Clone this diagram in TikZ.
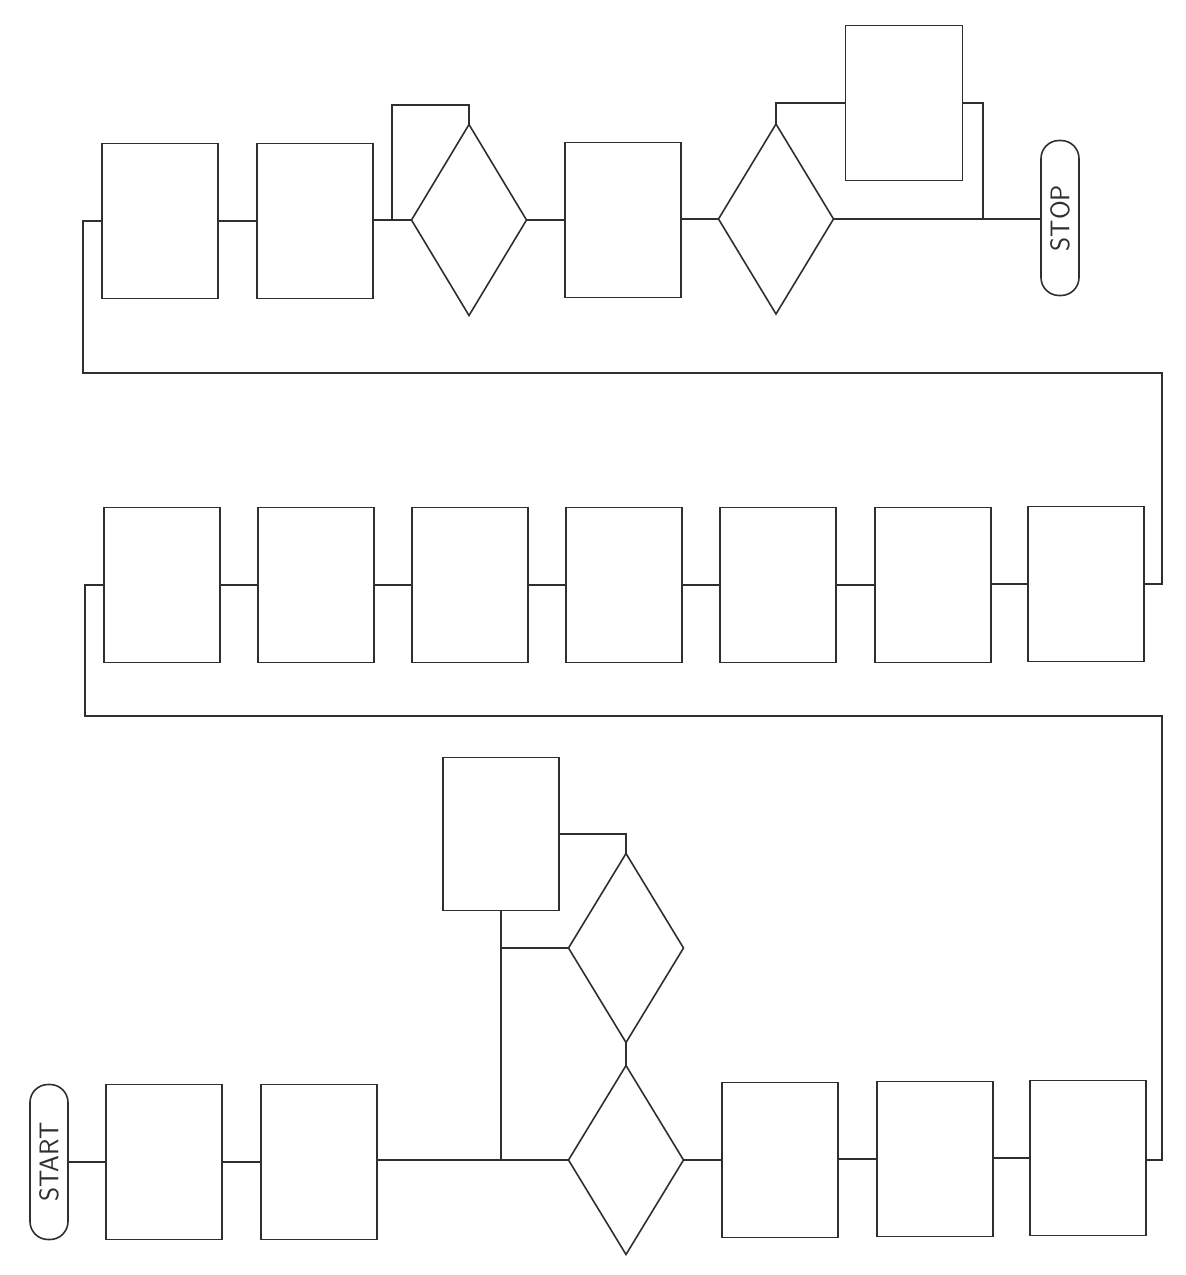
\documentclass[tikz,border=0pt]{standalone}
\usetikzlibrary{shapes.geometric}
\definecolor{ink}{RGB}{45,48,50}
\begin{document}
\begin{tikzpicture}[x=1pt,y=-1pt,
  every node/.style={outer sep=0pt, inner sep=0pt},
  conn/.style={draw=ink, line width=1.6pt},
  proc/.style={draw=ink, line width=1.6pt, rectangle, minimum width=116pt, minimum height=155pt},
  dec/.style={draw=ink, line width=1.6pt, diamond, minimum width=115pt, minimum height=189pt},
  term/.style={draw=ink, line width=1.6pt, rectangle, rounded corners=18pt, minimum width=38pt, minimum height=155pt, font=\sffamily\fontsize{27}{27}\selectfont, text=ink}]
\useasboundingbox (0,0) rectangle (1186,1275);
% ---- bottom row ----
\node[term] (start) at (49,1162) {\rotatebox{90}{START}};
\node[proc] (b1) at (164,1162) {};
\node[proc] (b2) at (319,1162) {};
\node[dec]  (dl) at (626,1160) {};
\node[dec]  (du) at (626,948) {};
\node[proc, minimum height=153pt] (bu) at (501,834) {};
\node[proc] (b3) at (780,1160) {};
\node[proc] (b4) at (935,1159) {};
\node[proc] (b5) at (1088,1158) {};
\coordinate (j1) at (501,1160);
\coordinate (j2) at (501,948);
\coordinate (r1a) at (1162,1160);
\coordinate (r1b) at (1162,716);
\coordinate (r1c) at (85,716);
\coordinate (r1d) at (85,585);
% ---- middle row ----
\node[proc] (m1) at (162,585) {};
\node[proc] (m2) at (316,585) {};
\node[proc] (m3) at (470,585) {};
\node[proc] (m4) at (624,585) {};
\node[proc] (m5) at (778,585) {};
\node[proc] (m6) at (933,585) {};
\node[proc] (m7) at (1086,584) {};
\coordinate (r2a) at (1162,584);
\coordinate (r2b) at (1162,373);
\coordinate (r2c) at (83,373);
\coordinate (r2d) at (83,221);
% ---- top row ----
\node[proc] (t1) at (160,221) {};
\node[proc] (t2) at (315,221) {};
\node[dec, minimum height=191pt] (dt1) at (469,220) {};
\node[proc] (t3) at (623,220) {};
\node[dec, minimum height=190pt] (dt2) at (776,219) {};
\node[proc, minimum width=117pt] (tb) at (904,103) {};
\node[term] (stop) at (1060,218) {\rotatebox{90}{STOP}};
\coordinate (l1) at (392,220);
\coordinate (l1t) at (392,105);
\coordinate (l2) at (983,219);
% ---- connectors bottom ----
\draw[conn] (start.east |- b1.west) -- (b1.west);
\draw[conn] (b1) -- (b2);
\draw[conn] (b2.east |- dl.west) -- (dl.west);
\draw[conn] (bu.south) -- (j1);
\draw[conn] (j2) -- (du.west);
\draw[conn] (bu.east) -| (du.north);
\draw[conn] (du.south) -- (dl.north);
\draw[conn] (dl.east) -- (b3.west |- dl.east);
\draw[conn] (b3.east |- b4.west) -- (b4.west);
\draw[conn] (b4.east |- b5.west) -- (b5.west);
\draw[conn] (b5.east |- r1a) -- (r1a) -- (r1b) -- (r1c) -- (r1d) -- (m1.west |- r1d);
% ---- connectors middle ----
\draw[conn] (m1) -- (m2);
\draw[conn] (m2) -- (m3);
\draw[conn] (m3) -- (m4);
\draw[conn] (m4) -- (m5);
\draw[conn] (m5) -- (m6);
\draw[conn] (m6.east |- m7.west) -- (m7.west);
\draw[conn] (m7.east |- r2a) -- (r2a) -- (r2b) -- (r2c) -- (r2d) -- (t1.west |- r2d);
% ---- connectors top ----
\draw[conn] (t1) -- (t2);
\draw[conn] (t2.east |- dt1.west) -- (dt1.west);
\draw[conn] (l1) -- (l1t) -| (dt1.north);
\draw[conn] (dt1.east) -- (t3.west |- dt1.east);
\draw[conn] (t3.east |- dt2.west) -- (dt2.west);
\draw[conn] (dt2.north) |- (tb.west);
\draw[conn] (tb.east) -| (l2);
\draw[conn] (dt2.east) -- (stop.west |- dt2.east);
\end{tikzpicture}
\end{document}
